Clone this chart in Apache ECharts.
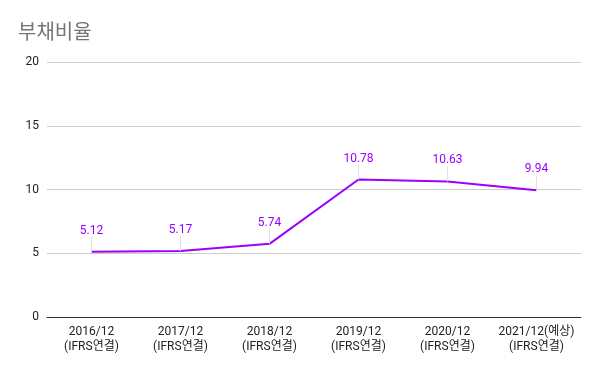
<!DOCTYPE html>
<html><head><meta charset="utf-8">
<script src="https://cdn.jsdelivr.net/npm/echarts@6/dist/echarts.min.js"></script>
<style>html,body{margin:0;padding:0;background:#fff}#c{width:600px;height:371px}</style>
</head><body><div id="c"></div>
<script>
var categories = ['2016/12\n(IFRS연결)','2017/12\n(IFRS연결)','2018/12\n(IFRS연결)','2019/12\n(IFRS연결)','2020/12\n(IFRS연결)','2021/12(예상)\n(IFRS연결)'];
var debtRatio = [5.12, 5.17, 5.74, 10.78, 10.63, 9.94];
var yTicks = {min: 0, max: 20, interval: 5};
var chart = echarts.init(document.getElementById('c'), null, {renderer: 'canvas'});
chart.setOption({
  animation: false,
  title: {text: '부채비율', left: 13, top: 16, textStyle: {fontFamily: 'Noto Sans CJK KR', fontSize: 20, fontWeight: 'normal', color: '#757575'}},
  grid: {left: 47, right: 19, top: 62, bottom: 54},
  xAxis: {type: 'category', data: categories, boundaryGap: true,
    axisLine: {lineStyle: {color: '#333', width: 1}}, axisTick: {show: false},
    axisLabel: {color: '#222', fontSize: 12, fontFamily: 'Roboto, Noto Sans CJK KR', lineHeight: 15, margin: 7, interval: 0}},
  yAxis: {type: 'value', min: yTicks.min, max: yTicks.max, interval: yTicks.interval,
    axisLine: {show: false}, axisTick: {show: false},
    splitLine: {lineStyle: {color: '#cccccc'}},
    axisLabel: {color: '#222', fontSize: 12, fontFamily: 'Roboto', margin: 8}},
  series: [{type: 'line', data: debtRatio, symbol: 'circle', symbolSize: 0.01, showSymbol: true,
    lineStyle: {color: '#9900ff', width: 2}, itemStyle: {color: '#9900ff'},
    label: {show: true, position: 'top', distance: 5, color: '#9900ff', fontSize: 12, fontFamily: 'Roboto'},
    labelLayout: {dy: -10},
    labelLine: {show: true, lineStyle: {color: '#e0e0e0', width: 1}}
  }]
});
</script></body></html>
